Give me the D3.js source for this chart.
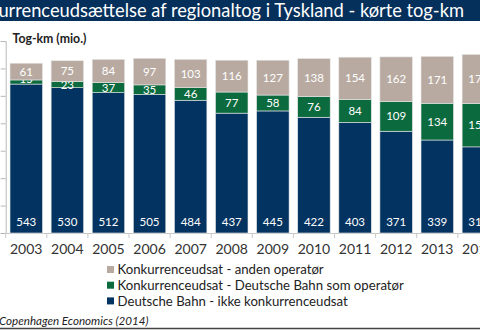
<!DOCTYPE html>
<html><head><meta charset="utf-8">
<script src="https://cdn.jsdelivr.net/npm/d3@7"></script>
<style>
html,body{margin:0;padding:0;background:#fff;overflow:hidden}
svg{display:block}
</style></head>
<body>
<script>
const years = ["2003","2004","2005","2006","2007","2008","2009","2010","2011","2012","2013","2014"];
const dbNotTendered = [543,530,512,505,484,437,445,422,403,371,339,314];
const tenderedDB = [15,23,37,35,46,77,58,76,84,109,134,158];
const tenderedOther = [61,75,84,97,103,116,127,138,154,162,171,179];
const seriesNames = ["Deutsche Bahn - ikke konkurrenceudsat","Konkurrenceudsat - Deutsche Bahn som operatør","Konkurrenceudsat - anden operatør"];
const yTicks = [0,100,200,300,400,500,600,700];
const title = "Konkurrenceudsættelse af regionaltog i Tyskland - kørte tog-km";
const yTitle = "Tog-km (mio.)";
const source = "Copenhagen Economics (2014)";

const colors = ["#023361","#0b6a3e","#b8aaa1"];
const W = 480, H = 330;
const font = "Lato, 'Open Sans', sans-serif";

const svg = d3.select("body").append("svg").attr("width", W).attr("height", H);

// title bar
svg.append("rect").attr("x",0).attr("y",0).attr("width",W).attr("height",21).attr("fill","#05305b");
svg.append("text").attr("x",464).attr("y",16.5).attr("text-anchor","end")
  .attr("font-family",font).attr("font-size",18.3).attr("fill","#fff").text(title);

const x = d3.scaleBand().domain(years).range([5.7, 5.7 + 12*41.1]).paddingInner(0.21).paddingOuter(0.105);
const y = d3.scaleLinear().domain([0,700]).range([233,41]);

const rows = years.map((yr,i)=>({year:yr, s0:dbNotTendered[i], s1:tenderedDB[i], s2:tenderedOther[i]}));
const stack = d3.stack().keys(["s0","s1","s2"])(rows);

// y axis (tick labels lie outside the cropped view)
const yAxis = svg.append("g").attr("transform","translate(5.7,0)")
  .call(d3.axisLeft(y).tickValues(yTicks).tickSize(5).tickFormat(""));
yAxis.selectAll("path,line").attr("stroke","#b8b8b8");

// x axis line + boundary ticks
const xg = svg.append("g");
xg.append("line").attr("x1",5.7).attr("x2",W+40).attr("y1",y(0)+0.5).attr("y2",y(0)+0.5).attr("stroke","#c8c8c8");
xg.selectAll("line.tk").data(years).enter().append("line")
  .attr("x1",d=>x(d)-x.step()*x.paddingInner()/2).attr("x2",d=>x(d)-x.step()*x.paddingInner()/2)
  .attr("y1",y(0)).attr("y2",y(0)+5).attr("stroke","#c8c8c8");
xg.selectAll("text").data(years).enter().append("text")
  .attr("x",d=>x(d)+x.bandwidth()/2).attr("y",254).attr("text-anchor","middle")
  .attr("font-family",font).attr("font-size",14).attr("fill","#333").text(d=>d);

// bars
stack.forEach((layer,li)=>{
  const g = svg.append("g");
  g.selectAll("rect").data(layer).enter().append("rect")
    .attr("x",d=>x(d.data.year)).attr("width",x.bandwidth())
    .attr("y",d=>y(d[1])).attr("height",d=>y(d[0])-y(d[1]))
    .attr("fill",colors[li]).attr("stroke","#e6e6e6").attr("stroke-width",0.6);
  g.selectAll("text").data(layer).enter().append("text")
    .attr("x",d=>x(d.data.year)+x.bandwidth()/2)
    .attr("y",d=>{
      if (li===0) return y(0)-11;
      const h = y(d[0])-y(d[1]);
      return h < 5 ? y(d[1]) - 1 : (y(d[0])+y(d[1]))/2;
    })
    .attr("dy","0.36em").attr("text-anchor","middle")
    .attr("font-family",font).attr("font-size",11.5).attr("fill","#fff")
    .text(d=>d[1]-d[0]);
});

// y title
svg.append("text").attr("x",12.5).attr("y",42.5).attr("font-family",font).attr("font-weight","bold")
  .attr("font-size",12.3).attr("fill","#222").text(yTitle);

// legend
const legendOrder = [2,1,0];
const lg = svg.append("g");
legendOrder.forEach((si,k)=>{
  const cy = 269.5 + k*15.7;
  lg.append("rect").attr("x",107).attr("y",cy-3.5).attr("width",7).attr("height",7).attr("fill",colors[si]);
  lg.append("text").attr("x",117.5).attr("y",cy).attr("dy","0.35em")
    .attr("font-family",font).attr("font-size",13.2).attr("fill","#222").text(seriesNames[si]);
});

// source
svg.append("text").attr("x",-1).attr("y",325).attr("font-family",font).attr("font-style","italic")
  .attr("font-size",11.6).attr("fill","#222").text(source);
svg.append("line").attr("x1",0).attr("x2",W).attr("y1",328.5).attr("y2",328.5).attr("stroke","#444").attr("stroke-width",1.5);
</script>
</body></html>
